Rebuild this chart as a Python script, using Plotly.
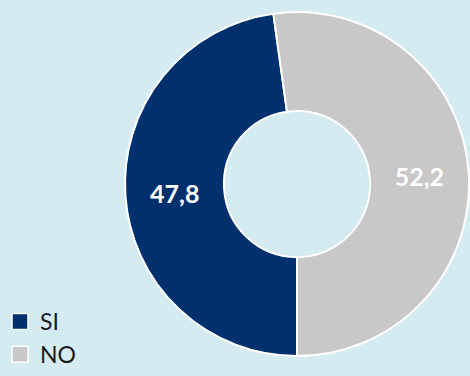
import plotly.graph_objects as go

labels = ["SI", "NO"]
values = [47.8, 52.2]
text_labels = ["47,8", "52,2"]
colors = ["#00306e", "#c8c8c8"]

fig = go.Figure()
fig.add_trace(go.Pie(
    labels=labels,
    values=values,
    text=text_labels,
    textinfo="text",
    textposition="inside",
    insidetextorientation="horizontal",
    textfont=dict(family="Lato", size=25, color="white", weight="bold"),
    hole=0.425,
    sort=False,
    direction="clockwise",
    rotation=180,
    marker=dict(colors=colors, line=dict(color="white", width=2)),
    domain=dict(x=[0.266, 0.998], y=[0.053, 0.968]),
    showlegend=False,
    hoverinfo="label+value",
))

for lab, col in zip(labels, colors):
    fig.add_trace(go.Scatter(
        x=[None], y=[None], mode="markers", name=lab,
        marker=dict(symbol="square", size=16, color=col,
                    line=dict(color="white", width=1.5)),
    ))

fig.update_layout(
    width=470, height=376,
    margin=dict(l=0, r=0, t=0, b=0),
    paper_bgcolor="#d5ebf2",
    plot_bgcolor="rgba(0,0,0,0)",
    xaxis=dict(visible=False),
    yaxis=dict(visible=False),
    showlegend=True,
    legend=dict(x=0.0, y=0.0, xanchor="left", yanchor="bottom",
                font=dict(family="Lato", size=23, color="#1a1a1a"),
                bgcolor="rgba(0,0,0,0)", itemwidth=30, tracegroupgap=0),
)

fig.write_html("out.html", post_script="document.body.style.margin='0';",
               config={"displayModeBar": False})
